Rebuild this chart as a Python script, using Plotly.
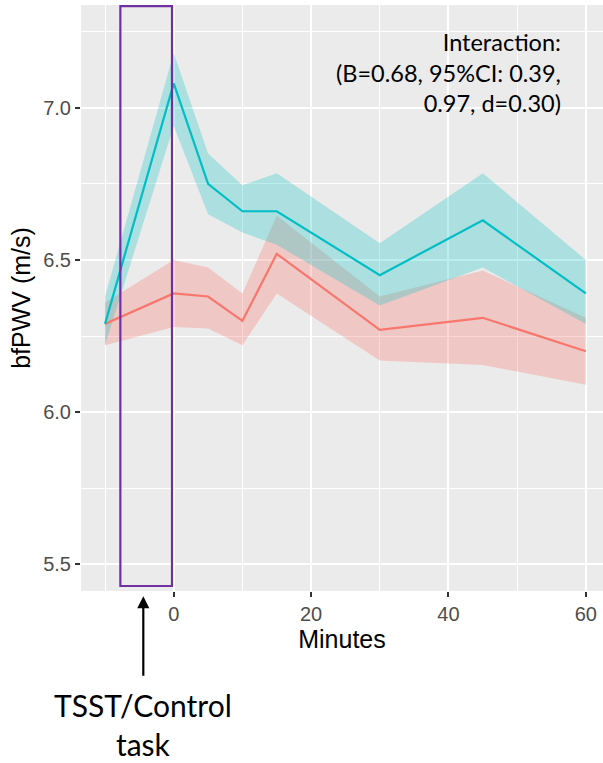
import plotly.graph_objects as go

# Time points (minutes relative to task end)
minutes = [-10, 0, 5, 10, 15, 30, 45, 60]

# TSST group: mean bfPWV and 95% CI bounds
tsst_mean = [6.29, 7.08, 6.75, 6.66, 6.66, 6.45, 6.63, 6.39]
tsst_lo = [6.22, 6.94, 6.65, 6.59, 6.55, 6.35, 6.475, 6.29]
tsst_hi = [6.38, 7.18, 6.85, 6.745, 6.785, 6.555, 6.785, 6.50]

# Control group: mean bfPWV and 95% CI bounds
ctrl_mean = [6.29, 6.39, 6.38, 6.30, 6.52, 6.27, 6.31, 6.20]
ctrl_lo = [6.22, 6.28, 6.275, 6.22, 6.39, 6.17, 6.155, 6.09]
ctrl_hi = [6.36, 6.50, 6.475, 6.39, 6.645, 6.38, 6.465, 6.31]

x_ticks = [0, 20, 40, 60]
y_ticks = [5.5, 6.0, 6.5, 7.0]

RED = "#F8766D"
CYAN = "#00BFC4"
RED_FILL = "rgba(248,118,109,0.3)"
CYAN_FILL = "rgba(0,191,196,0.27)"

fig = go.Figure()

# Confidence ribbons
for lo, hi, fill in [(ctrl_lo, ctrl_hi, RED_FILL), (tsst_lo, tsst_hi, CYAN_FILL)]:
    fig.add_trace(go.Scatter(x=minutes, y=lo, mode="lines", line=dict(width=0),
                             hoverinfo="skip", showlegend=False))
    fig.add_trace(go.Scatter(x=minutes, y=hi, mode="lines", line=dict(width=0),
                             fill="tonexty", fillcolor=fill,
                             hoverinfo="skip", showlegend=False))

# Mean lines
fig.add_trace(go.Scatter(x=minutes, y=ctrl_mean, mode="lines", name="Control",
                         line=dict(color=RED, width=2.2), showlegend=False))
fig.add_trace(go.Scatter(x=minutes, y=tsst_mean, mode="lines", name="TSST",
                         line=dict(color=CYAN, width=2.2), showlegend=False))

# Task window box
fig.add_shape(type="rect", xref="x", yref="y", x0=-7.77, x1=-0.25, y0=5.429, y1=7.334,
              line=dict(color="#7030A0", width=2.2), fillcolor="rgba(0,0,0,0)", layer="above")

# Arrow pointing at the task window
fig.add_annotation(x=-4.43, y=-0.009, xref="x", yref="paper", text="", showarrow=True,
                   ax=0, ay=81, arrowhead=2, arrowsize=1.1, arrowwidth=2.2, arrowcolor="black")

fig.add_annotation(x=-4.5, y=-0.228, xref="x", yref="paper", text="TSST/Control<br>task",
                   showarrow=False, xanchor="center", yanchor="middle", align="center",
                   font=dict(family="Lato", size=30, color="black"))

fig.add_annotation(x=56.7, y=7.116, xref="x", yref="y",
                   text="Interaction:<br>(B=0.68, 95%CI: 0.39,<br>0.97, d=0.30)",
                   showarrow=False, xanchor="right", yanchor="middle", align="right",
                   font=dict(family="Lato", size=23.5, color="black"))

axis_common = dict(
    showgrid=True, gridcolor="white", gridwidth=2, zeroline=False,
    ticks="outside", ticklen=5, tickwidth=1.5, tickcolor="#333333",
    tickfont=dict(family="Liberation Sans", size=20, color="#4D4D4D"),
    showline=False,
)

fig.update_xaxes(
    range=[-13.5, 62.5], tickvals=x_ticks, ticktext=[str(v) for v in x_ticks],
    minor=dict(tickvals=[-10, 10, 30, 50], showgrid=True, gridcolor="white", gridwidth=1,
               ticks=""),
    title=dict(text="Minutes", font=dict(family="Liberation Sans", size=25, color="black"),
               standoff=4),
    **axis_common,
)
fig.update_yaxes(
    range=[5.4125, 7.3375], tickvals=y_ticks, ticktext=[f"{v:.1f}" for v in y_ticks],
    minor=dict(tickvals=[5.75, 6.25, 6.75, 7.25], showgrid=True, gridcolor="white",
               gridwidth=1, ticks=""),
    title=dict(text="bfPWV (m/s)", font=dict(family="Liberation Sans", size=25, color="black"),
               standoff=5),
    **axis_common,
)

fig.update_layout(
    width=603, height=763,
    margin=dict(l=81, r=0, t=5, b=172, autoexpand=False),
    plot_bgcolor="#EBEBEB", paper_bgcolor="white",
    showlegend=False,
)

fig.write_html("out.html")
